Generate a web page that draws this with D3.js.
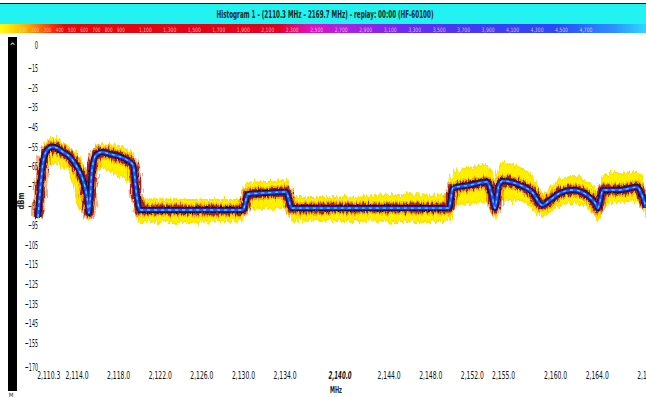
<!DOCTYPE html>
<html>
<head>
<meta charset="utf-8">
<script src="https://cdn.jsdelivr.net/npm/d3@7"></script>
<style>
  body { margin: 0; background: #fff; overflow: hidden; }
  text { font-family: "Liberation Sans Narrow", "DejaVu Sans Condensed", "Liberation Sans", sans-serif; }
</style>
</head>
<body>
<div id="chart"></div>
<script>
// ---- data ----
const titleText = "Histogram 1 - (2110.3 MHz - 2169.7 MHz) - replay: 00:00 (HF-60100)";
const countLabels = [100, 200, 300, 400, 500, 600, 700, 800, 900, 1100, 1300, 1500, 1700, 1900,
                     2100, 2300, 2500, 2700, 2900, 3100, 3300, 3500, 3700, 3900, 4100, 4300, 4500, 4700];

const yTicks = [0, -15, -25, -35, -45, -55, -65, -75, -85, -95, -105, -115, -125, -135, -145, -155, -170];

const xTicks = [2110.3, 2114, 2118, 2122, 2126, 2130, 2134, 2140, 2144, 2148, 2152, 2155, 2160, 2164, 2169.7];
const xTickLabels = ["2,110.3", "2,114.0", "2,118.0", "2,122.0", "2,126.0", "2,130.0", "2,134.0", "2,140.0",
                     "2,144.0", "2,148.0", "2,152.0", "2,155.0", "2,160.0", "2,164.0", "2,169.7"];

// frequency (MHz) of each sample
const freq = [2110.30, 2110.78, 2111.16, 2111.65, 2112.13, 2112.70, 2113.38, 2114.05, 2114.62, 2115.01,
              2115.20, 2115.49, 2115.87, 2116.45, 2117.22, 2117.99, 2118.85, 2119.43, 2119.81, 2120.10,
              2124.91, 2130.00, 2130.48, 2132.12, 2134.13, 2134.71, 2139.33, 2145.09, 2149.80, 2150.18,
              2151.82, 2153.45, 2153.93, 2154.22, 2154.60, 2154.99, 2156.63, 2157.87, 2158.74, 2159.51,
              2160.47, 2161.72, 2163.07, 2163.84, 2164.12, 2164.60, 2166.24, 2167.87, 2168.35, 2168.74];
// blue core trace (dBm)
const centerDbm = [-90.9, -63.4, -56.8, -55.2, -55.7, -57.8, -60.3, -65.4, -72.0, -80.7,
                   -88.8, -66.9, -59.3, -57.8, -58.8, -59.8, -61.8, -64.4, -80.7, -87.3,
                   -87.3, -87.3, -79.2, -78.6, -78.1, -86.3, -86.3, -86.3, -86.3, -76.1,
                   -74.6, -73.0, -79.7, -86.3, -74.6, -72.5, -74.6, -78.6, -84.8, -82.2,
                   -78.6, -77.1, -79.7, -83.7, -86.3, -77.1, -77.1, -75.6, -79.7, -85.8];
// yellow envelope, upper and lower (dBm)
const maxDbm = [-87.3, -59.3, -52.7, -50.6, -51.2, -53.2, -55.7, -60.3, -64.4, -72.0,
                -82.2, -61.8, -54.7, -53.7, -54.2, -54.7, -56.8, -58.3, -74.6, -81.7,
                -82.2, -82.2, -73.6, -73.0, -72.5, -81.2, -81.2, -79.7, -80.2, -68.0,
                -66.0, -64.4, -72.0, -81.2, -66.0, -63.4, -66.0, -71.0, -78.6, -76.1,
                -72.0, -70.5, -73.0, -77.1, -80.7, -69.0, -69.0, -68.0, -72.0, -79.7];
const minDbm = [-93.4, -74.6, -64.4, -63.4, -63.4, -64.9, -68.0, -82.2, -87.3, -89.9,
                -92.4, -82.2, -66.9, -65.9, -66.9, -69.4, -72.0, -74.6, -89.9, -93.4,
                -93.4, -92.4, -86.3, -86.3, -85.8, -92.4, -92.4, -92.9, -92.9, -84.8,
                -83.7, -83.2, -88.3, -91.4, -84.8, -82.2, -82.2, -85.8, -90.4, -88.3,
                -84.8, -83.2, -85.8, -89.3, -92.4, -83.7, -83.2, -82.2, -85.8, -91.0];

// ---- layout ----
const W = 646, H = 398;
const svg = d3.select("#chart").append("svg")
    .attr("width", W)
    .attr("height", H);

const defs = svg.append("defs");

// header gradient (yellow -> red -> magenta -> blue -> light blue)
const grad = defs.append("linearGradient").attr("id", "countGrad");
[[0, "#ffff10"], [0.04, "#ffb000"], [0.08, "#ff3000"], [0.1, "#e80808"], [0.43, "#e00020"],
 [0.48, "#e010c0"], [0.53, "#b020e0"], [0.62, "#7028f0"], [0.72, "#4838f0"], [0.86, "#2c48f8"],
 [0.95, "#2c90ff"], [1, "#30d8ff"]].forEach(s => {
    grad.append("stop").attr("offset", s[0]).attr("stop-color", s[1]);
});

// rough edges for the noisy trace
function roughFilter(id, freqXY, scale, seed) {
    const f = defs.append("filter").attr("id", id)
        .attr("x", "-5%").attr("y", "-30%").attr("width", "110%").attr("height", "160%");
    f.append("feTurbulence").attr("type", "fractalNoise").attr("baseFrequency", freqXY)
        .attr("numOctaves", 2).attr("seed", seed).attr("result", "noise");
    f.append("feDisplacementMap").attr("in", "SourceGraphic").attr("in2", "noise")
        .attr("scale", scale).attr("xChannelSelector", "R").attr("yChannelSelector", "G");
}
roughFilter("roughY", "0.5 0.06", 10, 3);
roughFilter("roughR", "0.6 0.1", 8, 7);
roughFilter("roughB", "0.7 0.2", 3, 11);

// squeeze a label horizontally so it is perChar px wide per character (the app uses a very narrow font)
function squeeze(sel, perChar) {
    sel.each(function() {
        const t = d3.select(this);
        const natural = this.getComputedTextLength();
        const target = t.text().length * perChar;
        if (natural > 0) t.attr("transform", `scale(${target / natural},1)`);
    });
}

// title band
svg.append("rect").attr("x", 0).attr("y", 3).attr("width", W).attr("height", 1).attr("fill", "#111");
svg.append("rect").attr("x", 0).attr("y", 4).attr("width", W).attr("height", 20).attr("fill", "#22f2f2");
svg.append("text")
    .attr("x", 325).attr("y", 18)
    .attr("text-anchor", "middle")
    .attr("font-size", "11px")
    .attr("font-weight", "bold")
    .attr("fill", "#1a2a2a")
    .attr("textLength", 217).attr("lengthAdjust", "spacingAndGlyphs")
    .text(titleText);

// count colour bar
svg.append("rect").attr("x", 0).attr("y", 24).attr("width", W).attr("height", 9).attr("fill", "url(#countGrad)");
const countScale = d3.scaleLinear().domain([100, 4700]).range([23, 586]);
svg.append("g").selectAll("text")
    .data(countLabels)
    .enter().append("text")
    .attr("x", d => countScale(d))
    .attr("y", 31.5)
    .attr("text-anchor", "middle")
    .attr("font-size", "6px")
    .attr("fill", "#f2d2cc")
    .attr("fill-opacity", 0.85)
    .text(d => d3.format(",")(d))
    .each(function(d) {
        const s = d3.format(",")(d);
        d3.select(this).attr("textLength", s.length * 2.6).attr("lengthAdjust", "spacingAndGlyphs");
    });

// black side strip
svg.append("rect").attr("x", 8).attr("y", 37).attr("width", 9).attr("height", 354).attr("fill", "#000");
svg.append("text").attr("x", 12.5).attr("y", 49).attr("text-anchor", "middle")
    .attr("font-size", "8px").attr("fill", "#fff").text("^");
svg.append("text").attr("x", 11).attr("y", 397).attr("text-anchor", "middle")
    .attr("font-size", "6px").attr("fill", "#333").text("M");

// scales
const x = d3.scaleLinear().domain([2110.3, 2169.7]).range([38, 656]);
const y = d3.scaleLinear().domain([0, -15, -155, -170]).range([45, 68, 343, 367]);

// y axis (labels only)
const yAxis = d3.axisLeft(y).tickValues(yTicks).tickSize(0).tickPadding(0);
const gy = svg.append("g").attr("class", "y-axis")
    .attr("transform", "translate(38,0)")
    .call(yAxis);
gy.select(".domain").remove();
gy.selectAll("text")
    .attr("font-size", "11px")
    .attr("fill", "#111")
    .attr("font-family", null);
squeeze(gy.selectAll("text"), 3.3);

svg.append("text")
    .attr("transform", "translate(24,201) rotate(-90)")
    .attr("text-anchor", "middle")
    .attr("font-size", "8px")
    .attr("font-weight", "bold")
    .attr("fill", "#222")
    .attr("textLength", 17).attr("lengthAdjust", "spacingAndGlyphs")
    .text("dBm");

// x axis (labels only)
const xAxis = d3.axisBottom(x).tickValues(xTicks).tickSize(0).tickPadding(0)
    .tickFormat((d, i) => xTickLabels[i]);
const gx = svg.append("g").attr("class", "x-axis")
    .attr("transform", "translate(0,372)")
    .call(xAxis);
gx.select(".domain").remove();
gx.selectAll("text")
    .attr("font-size", "10.5px")
    .attr("fill", "#111")
    .attr("font-family", null);
gx.selectAll("text").filter((d, i) => i === 0).attr("text-anchor", "start").attr("dx", "-2");
gx.selectAll("text").filter((d, i) => i === xTicks.length - 1).attr("text-anchor", "start").attr("dx", "-30");
gx.selectAll("text").filter(d => d === 2140)
    .attr("font-weight", "bold").attr("font-style", "italic").attr("dx", "-13");
squeeze(gx.selectAll("text"), 3.3);
svg.append("text")
    .attr("x", 336).attr("y", 393)
    .attr("text-anchor", "middle")
    .attr("font-size", "8px")
    .attr("font-weight", "bold")
    .attr("fill", "#222")
    .attr("textLength", 12).attr("lengthAdjust", "spacingAndGlyphs")
    .text("MHz");

// spectrum trace
const pts = freq.map((f, i) => ({ f: f, c: centerDbm[i], hi: maxDbm[i], lo: minDbm[i] }));

const envArea = d3.area()
    .x(d => x(d.f))
    .y0(d => y(d.lo))
    .y1(d => y(d.hi))
    .curve(d3.curveMonotoneX);

const coreLine = d3.line()
    .x(d => x(d.f))
    .y(d => y(d.c))
    .curve(d3.curveMonotoneX);

const trace = svg.append("g").attr("class", "trace");

trace.append("path")
    .datum(pts)
    .attr("d", envArea)
    .attr("fill", "#fff000")
    .attr("stroke", "#ffe000")
    .attr("stroke-width", 2)
    .attr("filter", "url(#roughY)");

trace.append("path")
    .datum(pts)
    .attr("d", coreLine)
    .attr("fill", "none")
    .attr("stroke", "#e07010")
    .attr("stroke-width", 13)
    .attr("stroke-opacity", 0.55)
    .attr("filter", "url(#roughR)");

trace.append("path")
    .datum(pts)
    .attr("d", coreLine)
    .attr("fill", "none")
    .attr("stroke", "#a8201a")
    .attr("stroke-width", 9)
    .attr("filter", "url(#roughR)");

trace.append("path")
    .datum(pts)
    .attr("d", coreLine)
    .attr("fill", "none")
    .attr("stroke", "#1a0c20")
    .attr("stroke-width", 6)
    .attr("filter", "url(#roughB)");

trace.append("path")
    .datum(pts)
    .attr("d", coreLine)
    .attr("fill", "none")
    .attr("stroke", "#1c1ca8")
    .attr("stroke-width", 4.5);

trace.append("path")
    .datum(pts)
    .attr("d", coreLine)
    .attr("fill", "none")
    .attr("stroke", "#2a5ce8")
    .attr("stroke-width", 2.2);

trace.append("path")
    .datum(pts)
    .attr("d", coreLine)
    .attr("fill", "none")
    .attr("stroke", "#48d0ff")
    .attr("stroke-width", 1.3)
    .attr("stroke-dasharray", "3,4");
</script>
</body>
</html>
